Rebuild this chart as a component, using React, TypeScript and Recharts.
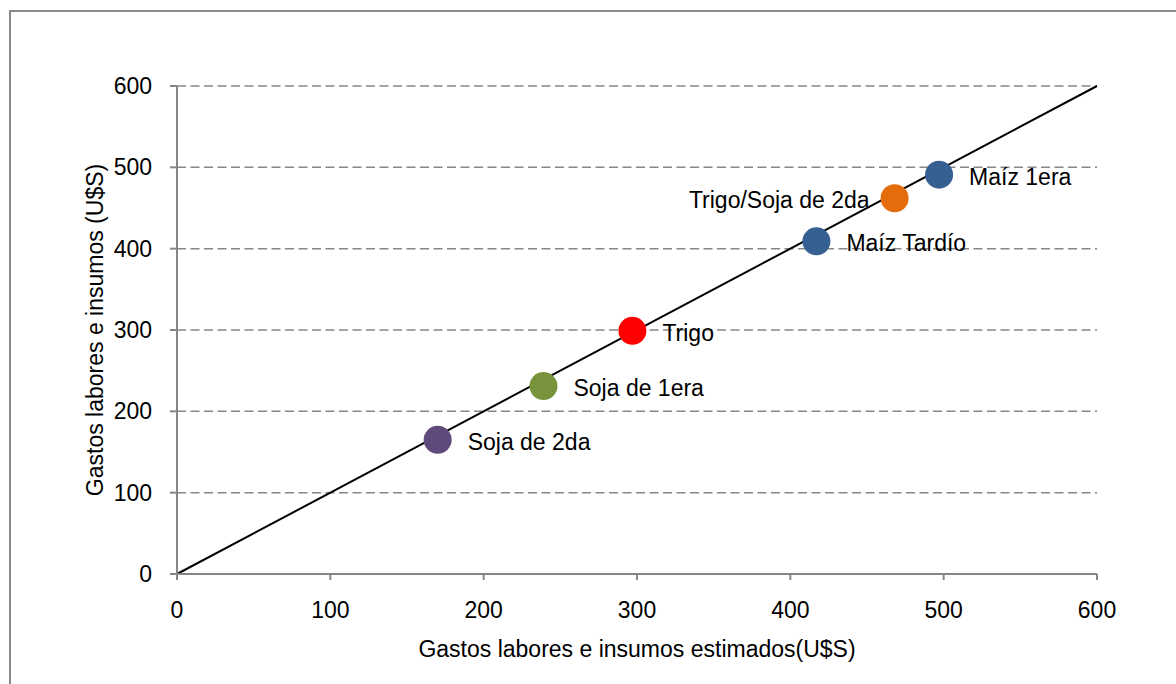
import { ScatterChart, Scatter, XAxis, YAxis, CartesianGrid, ReferenceLine, Cell } from "recharts";

// cultivos: gasto estimado (x) vs gasto real (y)
const names = ["Soja de 2da", "Soja de 1era", "Trigo", "Maíz Tardío", "Trigo/Soja de 2da", "Maíz 1era"];
const estimated = [170, 239, 297, 417, 468, 497];
const actual = [165, 231, 299, 409, 462, 491];
const colors = ["#604A7B", "#77933C", "#FF0000", "#376092", "#E46C0A", "#376092"];
const labelSide = ["right", "right", "right", "right", "left", "right"];
const ticks = [0, 100, 200, 300, 400, 500, 600];

const data = names.map((name, i) => ({
  name,
  x: estimated[i],
  y: actual[i],
  side: labelSide[i],
}));

const font = "'Liberation Sans', Arial, sans-serif";
const axisGrey = "#868686";

const Dot = (props: any) => {
  const { cx, cy, fill, payload } = props;
  const left = payload.side === "left";
  return (
    <g>
      <circle cx={cx} cy={cy} r={14} fill={fill} />
      <text
        x={left ? cx - 25 : cx + 30}
        y={cy + 2}
        textAnchor={left ? "end" : "start"}
        dominantBaseline="central"
        fontFamily={font}
        fontSize={23}
        fill="#000"
      >
        {payload.name}
      </text>
    </g>
  );
};

export default function App() {
  return (
    <div style={{ position: "absolute", left: 0, top: 0, width: 1176, height: 684, background: "#fff", overflow: "hidden" }}>
      <div
        style={{
          position: "absolute",
          left: 9,
          top: 10,
          width: 1300,
          height: 800,
          borderTop: "2px solid #8a8a8a",
          borderLeft: "2px solid #8a8a8a",
        }}
      />
      <div style={{ position: "absolute", left: 0, top: 0 }}>
        <ScatterChart width={1176} height={684} margin={{ top: 86, right: 79, bottom: 50, left: 77 }}>
          <CartesianGrid vertical={false} stroke={axisGrey} strokeWidth={1.5} strokeDasharray="9 4.5" />
          <XAxis
            type="number"
            dataKey="x"
            domain={[0, 600]}
            ticks={ticks}
            height={60}
            stroke={axisGrey}
            strokeWidth={2}
            tickSize={6}
            tickMargin={22}
            tick={{ fill: "#000", fontSize: 23, fontFamily: font }}
            label={{
              value: "Gastos labores e insumos estimados(U$S)",
              position: "bottom",
              offset: 7,
              style: { fill: "#000", fontSize: 23, fontFamily: font },
            }}
          />
          <YAxis
            type="number"
            dataKey="y"
            domain={[0, 600]}
            ticks={ticks}
            width={100}
            stroke={axisGrey}
            strokeWidth={2}
            tickSize={7}
            tickMargin={18}
            tick={{ fill: "#000", fontSize: 23, fontFamily: font }}
            label={{
              value: "Gastos labores e insumos (U$S)",
              angle: -90,
              position: "insideLeft",
              offset: 18,
              style: { fill: "#000", fontSize: 23, fontFamily: font, textAnchor: "middle" },
            }}
          />
          <Scatter data={data} shape={<Dot />} isAnimationActive={false}>
            {data.map((_, i) => (
              <Cell key={i} fill={colors[i]} />
            ))}
          </Scatter>
          <ReferenceLine
            segment={[{ x: 0, y: 0 }, { x: 600, y: 600 }]}
            stroke="#000"
            strokeWidth={2}
            ifOverflow="visible"
          />
        </ScatterChart>
      </div>
    </div>
  );
}
